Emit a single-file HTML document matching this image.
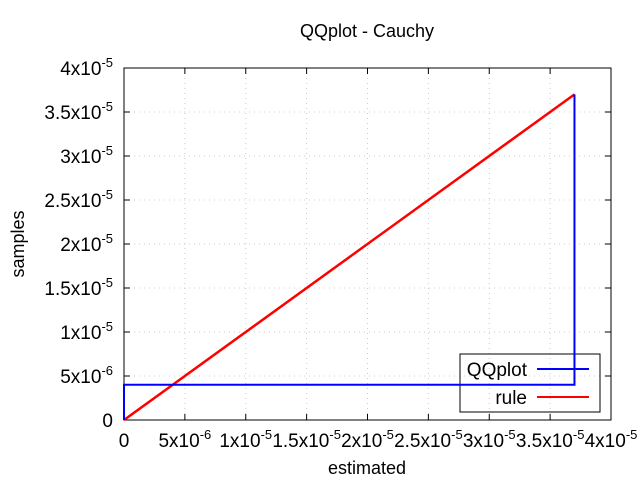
<!DOCTYPE html>
<html><head><meta charset="utf-8"><style>
body{margin:0;background:#fff}
svg{display:block;font-family:"Liberation Sans",sans-serif}
</style></head><body>
<svg id="chart" width="640" height="480">
<text x="367" y="37" font-size="18" text-anchor="middle">QQplot - Cauchy</text>
<text x="367" y="474" font-size="18" text-anchor="middle">estimated</text>
<text x="24" y="244" font-size="18" text-anchor="middle" transform="rotate(-90 24 244)">samples</text>
<g id="grid"></g><g id="ticks"></g>
<rect x="124" y="68" width="487" height="352" fill="none" stroke="#000" stroke-width="1"/>
<g>
<rect x="460" y="354" width="140" height="58" fill="none" stroke="#000"/>
<text x="527" y="376" font-size="19" text-anchor="end">QQplot</text>
<line x1="537" y1="369" x2="589" y2="369" stroke="#00f" stroke-width="2"/>
<text x="527" y="404" font-size="19" text-anchor="end">rule</text>
<line x1="537" y1="397" x2="589" y2="397" stroke="#f00" stroke-width="2"/>
</g>
<g id="series"></g>
</svg>
<script>
const xTicks=[0,0.5,1,1.5,2,2.5,3,3.5,4];
const yTicks=[0,0.5,1,1.5,2,2.5,3,3.5,4];
const tickLabels=["0","5x10<tspan dy='-8' font-size='13'>-6</tspan>","1x10<tspan dy='-8' font-size='13'>-5</tspan>","1.5x10<tspan dy='-8' font-size='13'>-5</tspan>","2x10<tspan dy='-8' font-size='13'>-5</tspan>","2.5x10<tspan dy='-8' font-size='13'>-5</tspan>","3x10<tspan dy='-8' font-size='13'>-5</tspan>","3.5x10<tspan dy='-8' font-size='13'>-5</tspan>","4x10<tspan dy='-8' font-size='13'>-5</tspan>"];
// values in units of 1e-5
const qqX=[0,0,3.7,3.7];
const qqY=[0,0.4,0.4,3.7];
const ruleX=[0,3.7];
const ruleY=[0,3.7];
const L=124,R=611,T=68,B=420;
const sx=v=>L+(v/4)*(R-L), sy=v=>B-(v/4)*(B-T);
const NS="http://www.w3.org/2000/svg";
const grid=document.getElementById('grid'),ticks=document.getElementById('ticks'),series=document.getElementById('series');
function mk(tag,attrs,parent){const e=document.createElementNS(NS,tag);for(const k in attrs)e.setAttribute(k,attrs[k]);parent.appendChild(e);return e;}
xTicks.forEach((v,i)=>{
 const x=sx(v);
 if(i>0&&i<xTicks.length-1){const g=mk('line',{x1:x,y1:T,x2:x,y2:B,stroke:'#ccc','stroke-dasharray':'1,4'},grid);
 
 }
 const t1=mk('line',{x1:x,y1:B,x2:x,y2:B-6,stroke:'#000'},ticks);
 
 
 const t2=mk('line',{x1:x,y1:T,x2:x,y2:T+6,stroke:'#000'},ticks);
 
 
 const tx=mk('text',{x:x,y:447,'font-size':'19','text-anchor':'middle'},ticks);
 tx.innerHTML=tickLabels[i];
 
 
});
yTicks.forEach((v,i)=>{
 const y=sy(v);
 if(i>0&&i<yTicks.length-1){const g=mk('line',{x1:L,y1:y,x2:R,y2:y,stroke:'#ccc','stroke-dasharray':'1,4'},grid);
 
 }
 const t1=mk('line',{x1:L,y1:y,x2:L+6,y2:y,stroke:'#000'},ticks);
 
 
 const t2=mk('line',{x1:R,y1:y,x2:R-6,y2:y,stroke:'#000'},ticks);
 
 
 const tx=mk('text',{x:113,y:y+7,'font-size':'19','text-anchor':'end'},ticks);
 tx.innerHTML=tickLabels[i];
 
 
});
const rl=mk('polyline',{points:ruleX.map((x,i)=>sx(x)+','+sy(ruleY[i])).join(' '),fill:'none',stroke:'#f00','stroke-width':2.5},series);


const qq=mk('polyline',{points:qqX.map((x,i)=>sx(x)+','+sy(qqY[i])).join(' '),fill:'none',stroke:'#00f','stroke-width':2},series);


</script>
</body></html>
